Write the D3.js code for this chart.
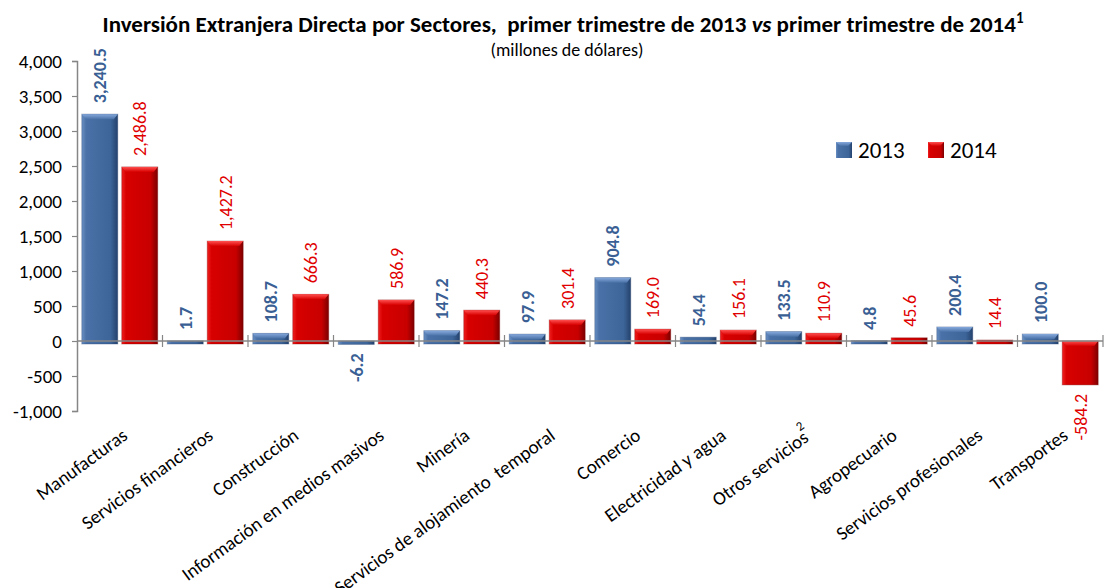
<!DOCTYPE html>
<html>
<head>
<meta charset="utf-8">
<script src="https://cdn.jsdelivr.net/npm/d3@7"></script>
<style>
  body { margin: 0; background: #fff; }
  svg { display: block; font-family: Carlito, Calibri, "Open Sans", sans-serif; }
</style>
</head>
<body>
<svg id="chart" width="1109" height="588"></svg>
<script>
const sectors = [
  'Manufacturas', 'Servicios financieros', 'Construcción', 'Información en medios masivos',
  'Minería', 'Servicios de alojamiento  temporal', 'Comercio', 'Electricidad y agua',
  'Otros servicios', 'Agropecuario', 'Servicios profesionales', 'Transportes'
];
const years = ['2013', '2014'];
const values2013 = [3240.5, 1.7, 108.7, -6.2, 147.2, 97.9, 904.8, 54.4, 133.5, 4.8, 200.4, 100.0];
const values2014 = [2486.8, 1427.2, 666.3, 586.9, 440.3, 301.4, 169.0, 156.1, 110.9, 45.6, 14.4, -584.2];
const yTicks = [-1000, -500, 0, 500, 1000, 1500, 2000, 2500, 3000, 3500, 4000];
const superscripts = { 'Otros servicios': '2' };

const svg = d3.select('#chart');
const locale = d3.formatLocale({ decimal: '.', thousands: ',', grouping: [3], currency: ['$', ''], minus: '-' });
const fmtTick = locale.format(',');
const fmtVal = locale.format(',.1f');

const plot = { left: 77, right: 1103, top: 61, bottom: 411 };

const y = d3.scaleLinear().domain([-1000, 4000]).range([plot.bottom, plot.top]);
const x0 = d3.scaleBand().domain(sectors).range([plot.left, plot.right]).padding(0);
const x1 = d3.scaleBand().domain(years).range([0, x0.bandwidth()])
  .paddingInner(0.1).paddingOuter(0.12);

const rows = sectors.map((s, i) => ({
  sector: s,
  bars: [
    { year: '2013', value: values2013[i] },
    { year: '2014', value: values2014[i] }
  ]
}));

// gradients for the bevelled bars
const defs = svg.append('defs');
const palette = {
  '2013': { stops: ['#6a90c4', '#4a72a8', '#3d6599', '#24426d'], top: '#86a9dc', label: '#3a5f94' },
  '2014': { stops: ['#f02020', '#d80000', '#c80000', '#7c0000'], top: '#ff5050', label: '#e00000' }
};
years.forEach(yr => {
  const g = defs.append('linearGradient').attr('id', 'body' + yr)
    .attr('x1', 0).attr('x2', 1).attr('y1', 0).attr('y2', 0);
  [0, 0.12, 0.8, 1].forEach((o, i) => g.append('stop').attr('offset', o).attr('stop-color', palette[yr].stops[i]));
  const t = defs.append('linearGradient').attr('id', 'top' + yr)
    .attr('x1', 0).attr('x2', 0).attr('y1', 0).attr('y2', 1);
  t.append('stop').attr('offset', 0).attr('stop-color', palette[yr].top);
  t.append('stop').attr('offset', 1).attr('stop-color', palette[yr].stops[1]);
});

// y axis
const yAxis = svg.append('g')
  .attr('transform', `translate(${plot.left},0)`)
  .call(d3.axisLeft(y).tickValues(yTicks).tickFormat(fmtTick).tickSize(5).tickPadding(10));
yAxis.select('.domain').attr('stroke', '#868686').attr('stroke-width', 1.5);
yAxis.selectAll('.tick line').attr('stroke', '#868686').attr('stroke-width', 1.2);
yAxis.selectAll('.tick text').attr('font-size', 19).attr('fill', '#000')
  .style('font-family', 'Carlito, Calibri, "Open Sans", sans-serif');

// bars
const groups = svg.append('g').selectAll('g.sector').data(rows).join('g')
  .attr('class', 'sector')
  .attr('transform', d => `translate(${x0(d.sector)},0)`);

const bar = groups.selectAll('g.bar').data(d => d.bars).join('g').attr('class', 'bar');

bar.append('rect')
  .attr('x', d => x1(d.year))
  .attr('y', d => y(Math.max(0, d.value)))
  .attr('width', x1.bandwidth())
  .attr('height', d => Math.abs(y(d.value) - y(0)) + 3)
  .attr('fill', d => `url(#body${d.year})`)
  .attr('stroke', d => palette[d.year].stops[3])
  .attr('stroke-opacity', 0.35)
  .attr('stroke-width', 1);

bar.filter(d => Math.abs(y(d.value) - y(0)) > 6).append('path')
  .attr('d', d => {
    const xa = x1(d.year), w = x1.bandwidth(), top = y(Math.max(0, d.value)), h = 5;
    return `M${xa},${top}L${xa + w},${top}L${xa + w - 4},${top + h}L${xa + 4},${top + h}Z`;
  })
  .attr('fill', d => `url(#top${d.year})`);

// value labels
bar.append('text')
  .attr('transform', d => {
    const cx = x1(d.year) + x1.bandwidth() / 2 + 2;
    const yy = d.value >= 0 ? y(d.value) - 11 : y(d.value) + 12;
    return `translate(${cx},${yy}) rotate(-90)`;
  })
  .attr('text-anchor', d => d.value >= 0 ? 'start' : 'end')
  .attr('dominant-baseline', 'middle')
  .attr('font-size', 18)
  .attr('font-weight', d => d.year === '2013' ? 'bold' : 'normal')
  .attr('fill', d => palette[d.year].label)
  .text(d => fmtVal(d.value));

// zero line with category separators
svg.append('line')
  .attr('x1', plot.left).attr('x2', plot.right)
  .attr('y1', y(0)).attr('y2', y(0))
  .attr('stroke', '#868686').attr('stroke-width', 1.5);
const bounds = sectors.slice(1).map(s => x0(s)).concat([plot.right]);
svg.append('g').selectAll('line').data(bounds).join('line')
  .attr('x1', d => d).attr('x2', d => d)
  .attr('y1', y(0) - 6).attr('y2', y(0) + 6)
  .attr('stroke', '#868686').attr('stroke-width', 1.2);

// category labels
const cat = svg.append('g').selectAll('text').data(sectors).join('text')
  .attr('transform', d => `translate(${x0(d) + x0.bandwidth() / 2 + 1},427) rotate(-36)`)
  .attr('text-anchor', 'end')
  .attr('dy', '0.72em')
  .attr('font-size', 19)
  .attr('fill', '#000')
  .style('white-space', 'pre')
  .text(d => d);
cat.filter(d => superscripts[d]).append('tspan')
  .attr('font-size', 13)
  .attr('dy', '-1em')
  .attr('dx', '-3')
  .text(d => superscripts[d]);

// title
const title = svg.append('text')
  .attr('x', 563).attr('y', 32)
  .attr('text-anchor', 'middle')
  .attr('font-size', 23)
  .attr('font-weight', 'bold')
  .style('white-space', 'pre');
title.append('tspan').text('Inversión Extranjera Directa por Sectores,  primer trimestre de 2013 ');
title.append('tspan').attr('font-style', 'italic').text('vs');
title.append('tspan').text(' primer trimestre de 2014');
title.append('tspan').attr('font-size', 15).attr('dy', -9).text('1');

svg.append('text')
  .attr('x', 567).attr('y', 56)
  .attr('text-anchor', 'middle')
  .attr('font-size', 18)
  .text('(millones de dólares)');

// legend
const legend = svg.append('g').selectAll('g').data(years).join('g')
  .attr('transform', (d, i) => `translate(${836 + i * 92},142)`);
legend.append('rect')
  .attr('width', 16).attr('height', 16)
  .attr('fill', d => `url(#body${d})`);
legend.append('path')
  .attr('d', 'M0,0L16,0L12,4L4,4Z')
  .attr('fill', d => `url(#top${d})`);
legend.append('text')
  .attr('x', 22).attr('y', 16)
  .attr('font-size', 23)
  .text(d => d);
</script>
</body>
</html>
